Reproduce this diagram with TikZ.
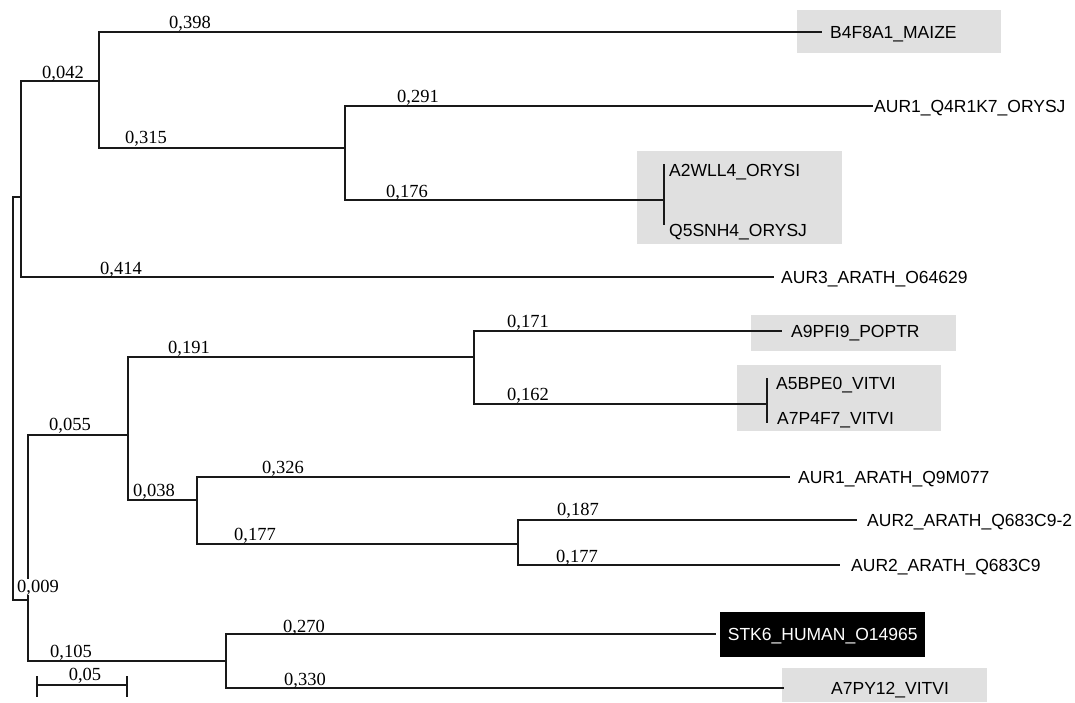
\documentclass[tikz,border=0pt]{standalone}
\usepackage{fontspec}
\setmainfont{Liberation Serif}
\newfontfamily\leaffont{Liberation Sans}
\begin{document}
\begin{tikzpicture}[x=1pt,y=-1pt,
  br/.style={line width=2.4pt, draw=black!90},
  pair/.style={line width=2.8pt, draw=black!90},
  bl/.style={font=\fontsize{18.5}{20}\selectfont, anchor=base, inner sep=0pt},
  leaf/.style={anchor=west, inner sep=0pt, font=\leaffont\fontsize{17.5}{18}\selectfont, text height=12.5pt, text depth=0pt},
  hl/.style={fill=black!12}]
\useasboundingbox (0,0) rectangle (1075,702);
% highlight boxes
\fill[hl] (797,10) rectangle (1001,53);
\fill[hl] (637,151) rectangle (842,244);
\fill[hl] (751,315) rectangle (956,351);
\fill[hl] (737,365) rectangle (941,431);
\fill[hl] (782,668) rectangle (987,702);
% leaves
\node[leaf] (b4) at (830,32) {B4F8A1\_MAIZE};
\node[leaf] (q4) at (874,106) {AUR1\_Q4R1K7\_ORYSJ};
\node[leaf] (a2) at (669,170) {A2WLL4\_ORYSI};
\node[leaf] (q5) at (669,230) {Q5SNH4\_ORYSJ};
\node[leaf] (aur3) at (781,277) {AUR3\_ARATH\_O64629};
\node[leaf] (a9) at (791,331) {A9PFI9\_POPTR};
\node[leaf] (a5) at (776,383) {A5BPE0\_VITVI};
\node[leaf] (a7p4) at (777,418) {A7P4F7\_VITVI};
\node[leaf] (aur1a) at (798,477) {AUR1\_ARATH\_Q9M077};
\node[leaf] (aur2b) at (867,520) {AUR2\_ARATH\_Q683C9-2};
\node[leaf] (aur2) at (851,565) {AUR2\_ARATH\_Q683C9};
\node[leaf, fill=black, text=white, minimum width=205pt, minimum height=45pt] (stk6) at (720,634) {STK6\_HUMAN\_O14965};
\node[leaf] (a7py) at (831,688) {A7PY12\_VITVI};
% internal nodes
\coordinate (rt) at (13,398);
\coordinate (nA) at (21,197);
\coordinate (nB) at (99,81);
\coordinate (nC) at (345,148);
\coordinate (nD) at (664,200);
\coordinate (dT) at (664,164);
\coordinate (dB) at (664,225);
\coordinate (nE) at (28,600);
\coordinate (nF) at (128,435);
\coordinate (nG) at (474,357);
\coordinate (nH) at (767,404);
\coordinate (hT) at (767,378);
\coordinate (hB) at (767,423);
\coordinate (nI) at (197,500);
\coordinate (nJ) at (518,544);
\coordinate (nK) at (226,661);
% branches
\draw[br] (rt) |- (nA);
\draw[br] (rt) |- (nE);
\draw[br] (nA) |- (nB);
\draw[br, shorten >=7pt] (nA) |- (aur3.west);
\draw[br, shorten >=8pt] (nB) |- (b4.west);
\draw[br] (nB) |- (nC);
\draw[br, shorten >=1pt] (nC) |- (q4.west);
\draw[br] (nC) |- (nD);
\draw[pair] (dT) -- (dB);
\draw[br] (nE) |- (nF);
\draw[br] (nE) |- (nK);
\draw[br] (nF) |- (nG);
\draw[br] (nF) |- (nI);
\draw[br, shorten >=9pt] (nG) |- (a9.west);
\draw[br] (nG) |- (nH);
\draw[pair] (hT) -- (hB);
\draw[br, shorten >=8pt] (nI) |- (aur1a.west);
\draw[br] (nI) |- (nJ);
\draw[br, shorten >=10pt] (nJ) |- (aur2b.west);
\draw[br, shorten >=11pt] (nJ) |- (aur2.west);
\draw[br, shorten >=4pt] (nK) |- (stk6.west);
\draw[br, shorten >=47pt] (nK) |- (a7py.west);
% scale bar
\coordinate (s1) at (37,685);
\coordinate (s2) at (127,685);
\coordinate (s1t) at (37,676);
\coordinate (s1b) at (37,697);
\coordinate (s2t) at (127,676);
\coordinate (s2b) at (127,697);
\draw[br] (s1) -- (s2);
\draw[br] (s1t) -- (s1b);
\draw[br] (s2t) -- (s2b);
% branch labels
\node[bl] (l398) at (190,28) {0,398};
\node[bl] (l042) at (63,78) {0,042};
\node[bl] (l315) at (146,143) {0,315};
\node[bl] (l291) at (418,102) {0,291};
\node[bl] (l176) at (407,197) {0,176};
\node[bl] (l414) at (121,274) {0,414};
\node[bl] (l191) at (189,353) {0,191};
\node[bl] (l055) at (70,430) {0,055};
\node[bl] (l038) at (154,496) {0,038};
\node[bl] (l326) at (283,473) {0,326};
\node[bl] (l177a) at (255,540) {0,177};
\node[bl, fill=white, inner sep=0.5pt] (l009) at (38,592) {0,009};
\node[bl] (l105) at (71,657) {0,105};
\node[bl] (l05) at (85,680) {0,05};
\node[bl] (l270) at (304,632) {0,270};
\node[bl] (l330) at (305,685) {0,330};
\node[bl] (l171) at (528,327) {0,171};
\node[bl] (l162) at (528,400) {0,162};
\node[bl] (l187) at (578,515) {0,187};
\node[bl] (l177b) at (577,562) {0,177};
\end{tikzpicture}
\end{document}
